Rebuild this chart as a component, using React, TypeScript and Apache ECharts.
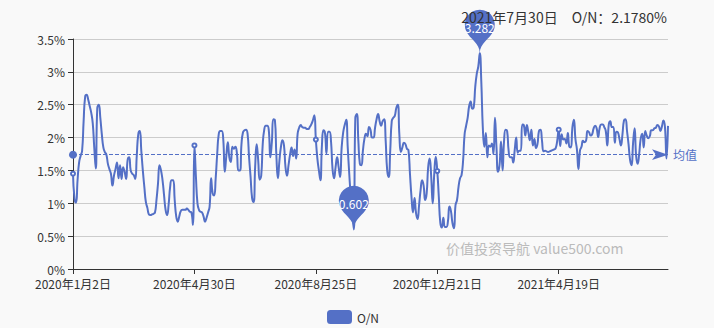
import React, { useEffect, useRef } from "react";
import * as echarts from "echarts";

// Chinese interbank calendar (2020-01-02 .. 2021-07-30)
const startDate = "2020-01-02";
const endDate = "2021-07-30";
const holidays = [
  "2020-01-01", "2020-01-24", "2020-01-27", "2020-01-28", "2020-01-29", "2020-01-30", "2020-01-31",
  "2020-04-06", "2020-05-01", "2020-05-04", "2020-05-05", "2020-06-25", "2020-06-26",
  "2020-10-01", "2020-10-02", "2020-10-05", "2020-10-06", "2020-10-07", "2020-10-08",
  "2021-01-01", "2021-02-11", "2021-02-12", "2021-02-15", "2021-02-16", "2021-02-17",
  "2021-04-05", "2021-05-03", "2021-05-04", "2021-05-05", "2021-06-14",
];
const makeupWorkdays = [
  "2020-01-19", "2020-04-26", "2020-05-09", "2020-06-28", "2020-09-27", "2020-10-10",
  "2021-02-07", "2021-02-20", "2021-04-25", "2021-05-08",
];

// O/N values (%), in trading-day order
const on2020JanMar = [1.45,1.07,1.01,1.35,1.62,1.72,1.80,2.25,2.62,2.65, 2.58,2.48,2.38,2.22,1.85,1.53,2.45,2.50,2.30,2.05, 1.85,1.78,1.74,1.60,1.52,1.45,1.27,1.42,1.52,1.62, 1.38,1.58,1.37,1.55,1.48,1.37,1.66,1.70,1.50,1.45, 1.43,1.37,1.72,2.05,2.10,1.80,1.50,1.25];
const on2020MarMay = [1.02,0.93,0.83,0.82,0.83,0.84,0.86,1.05,1.30,1.58, 1.50,1.35,1.12,0.90,0.82,0.98,1.25,1.35,1.35,1.05, 0.80,0.72,0.80,0.88,0.90,0.90,0.90,0.92,0.90,0.87, 0.86,0.67,1.88,1.40,1.00,0.90,0.87,0.86,0.80,0.72, 0.78,0.86,0.95,1.38,1.15,1.12,1.38,1.75,2.05,2.10];
const on2020MayAug = [2.10,1.97,1.48,1.72,1.93,1.70,1.63,1.86,1.83,1.86, 1.76,1.50,1.50,1.90,2.08,2.11,2.12,2.06,1.70,1.40, 1.08,1.02,1.55,1.90,1.66,1.36,1.42,1.90,2.12,2.18, 2.18,2.11,1.70,1.93,2.28,2.27,1.72,1.38,1.65,1.86, 1.96,1.88,1.55,1.42,1.58,1.74,1.85,1.72,1.82,1.68];
const on2020AugOct = [2.06,2.15,2.19,2.16,2.15,2.15,2.13,2.13,2.16,2.20, 2.26,2.34,1.97,1.68,1.50,1.35,1.88,2.11,2.07,1.76, 2.09,2.09,1.94,1.52,1.38,1.55,1.70,1.55,1.40,1.85, 2.08,2.19,2.27,1.85,1.45,1.10,0.85,0.602,2.30,2.36, 1.95,1.60,1.58,1.80,1.98,2.06,2.02,2.16,2.12,2.00];
const on2020OctDec = [2.00,2.15,2.28,2.36,2.25,2.18,2.25,2.28,1.95,1.50, 1.40,1.80,2.25,2.30,2.33,2.45,2.50,2.05,1.78,1.85, 1.92,1.90,1.83,1.81,1.45,1.10,0.86,1.08,0.85,0.76, 0.97,1.20,1.35,1.27,1.05,1.15,1.55,1.68,1.40,1.00, 1.45,1.71,1.49,1.10,0.70,0.63,0.78,0.64,0.64,0.72];
const on2021JanMar = [0.95,0.88,0.70,0.62,0.97,1.05,1.25,1.38,1.43,1.65, 2.05,2.18,2.30,2.48,2.55,2.44,2.46,2.77,2.97,3.08, 3.282,2.85,2.15,1.86,2.07,1.70,1.88,1.86,1.91,1.75, 2.30,1.85,1.48,1.58,1.94,1.50,1.95,2.12,2.10,1.80, 1.70,1.70,1.62,1.81,2.00,1.77,1.80,1.80,2.20,2.19];
const on2021MarJun = [2.03,2.19,2.08,1.96,2.12,1.88,1.98,1.84,1.90,2.10, 2.12,1.95,1.79,1.80,1.79,1.78,1.79,1.80,1.81,1.82, 1.84,1.95,2.12,1.87,2.05,1.97,1.98,1.91,2.07,1.86, 1.85,2.15,2.27,1.98,1.82,1.52,1.80,1.86,1.95,1.93, 1.95,2.10,2.08,2.03,2.05,2.14,2.18,2.14,2.01,2.15];
const on2021JunJul = [2.20,2.20,2.16,2.10,1.88,2.20,2.25,2.16,2.16,1.92, 2.09,2.08,1.98,1.88,2.05,2.26,2.28,2.10,1.90,1.66, 1.58,1.92,2.14,1.72,1.60,1.75,1.98,2.06,1.85,2.10, 2.03,1.99,2.02,2.11,2.11,2.14,2.15,2.19,2.17,2.10, 2.17,2.26,2.16,1.68,2.178];

const yTicks = [0, 0.5, 1, 1.5, 2, 2.5, 3, 3.5];
const titleText = "2021年7月30日\u3000O/N：2.1780%";
const watermark = "价值投资导航 value500.com";
const seriesName = "O/N";

function pad(n: number) {
  return n < 10 ? "0" + n : "" + n;
}

function tradingDays(): string[] {
  const out: string[] = [];
  const hol = new Set(holidays);
  const mk = new Set(makeupWorkdays);
  const [sy, sm, sd] = startDate.split("-").map(Number);
  const [ey, em, ed] = endDate.split("-").map(Number);
  const d = new Date(Date.UTC(sy, sm - 1, sd));
  const end = new Date(Date.UTC(ey, em - 1, ed));
  while (d.getTime() <= end.getTime()) {
    const y = d.getUTCFullYear();
    const m = d.getUTCMonth() + 1;
    const day = d.getUTCDate();
    const key = `${y}-${pad(m)}-${pad(day)}`;
    const wd = d.getUTCDay();
    const isWeekend = wd === 0 || wd === 6;
    if ((!isWeekend && !hol.has(key)) || mk.has(key)) {
      out.push(`${y}年${m}月${day}日`);
    }
    d.setUTCDate(d.getUTCDate() + 1);
  }
  return out;
}

export default function App() {
  const ref = useRef<HTMLDivElement>(null);
  useEffect(() => {
    document.body.style.margin = "0";
    if (!ref.current) return;
    const chart = echarts.init(ref.current, undefined, { renderer: "svg" });
    const categories = tradingDays();
    const values = [
      ...on2020JanMar, ...on2020MarMay, ...on2020MayAug, ...on2020AugOct,
      ...on2020OctDec, ...on2021JanMar, ...on2021MarJun, ...on2021JunJul,
    ];
    const font = "'Noto Sans CJK SC', 'Noto Sans', sans-serif";
    chart.setOption({
      animation: false,
      backgroundColor: "#f9f9f9",
      textStyle: { fontFamily: font },
      title: {
        text: titleText,
        right: 42,
        top: 5,
        textStyle: { fontSize: 14, fontWeight: "normal", color: "#333", fontFamily: font },
      },
      graphic: [
        {
          type: "text",
          left: 446,
          top: 241,
          silent: true,
          style: { text: watermark, fill: "#bbb", fontSize: 14, fontFamily: font },
        },
      ],
      legend: {
        bottom: -1,
        left: 322,
        icon: "roundRect",
        itemWidth: 25,
        itemHeight: 14,
        textStyle: { color: "#333", fontSize: 12 },
        data: [seriesName],
      },
      grid: { left: 73, right: 46, top: 39, bottom: 59 },
      xAxis: {
        type: "category",
        boundaryGap: false,
        data: categories,
        axisLine: { lineStyle: { color: "#333" } },
        axisTick: { interval: 79 },
        axisLabel: { interval: 79, color: "#333", fontSize: 12 },
      },
      yAxis: {
        type: "value",
        min: 0,
        max: yTicks[yTicks.length - 1],
        interval: 0.5,
        axisLine: { show: true, lineStyle: { color: "#333" } },
        axisTick: { show: true },
        axisLabel: { formatter: "{value}%", color: "#333", fontSize: 12 },
        splitLine: { lineStyle: { color: "#ccc" } },
      },
      series: [
        {
          name: seriesName,
          type: "line",
          smooth: true,
          data: values,
          color: "#5470c6",
          symbol: "emptyCircle",
          symbolSize: 4,
          lineStyle: { width: 2 },
          markPoint: {
            data: [
              { type: "max", name: "最大值" },
              { type: "min", name: "最小值" },
            ],
            label: { color: "#fff", fontSize: 12 },
          },
          markLine: {
            data: [{ type: "average", name: "均值" }],
            label: { formatter: "均值", color: "#5470c6" },
            lineStyle: { color: "#5470c6" },
          },
        },
      ],
    });
    return () => chart.dispose();
  }, []);
  return <div ref={ref} style={{ width: 714, height: 328 }} />;
}
